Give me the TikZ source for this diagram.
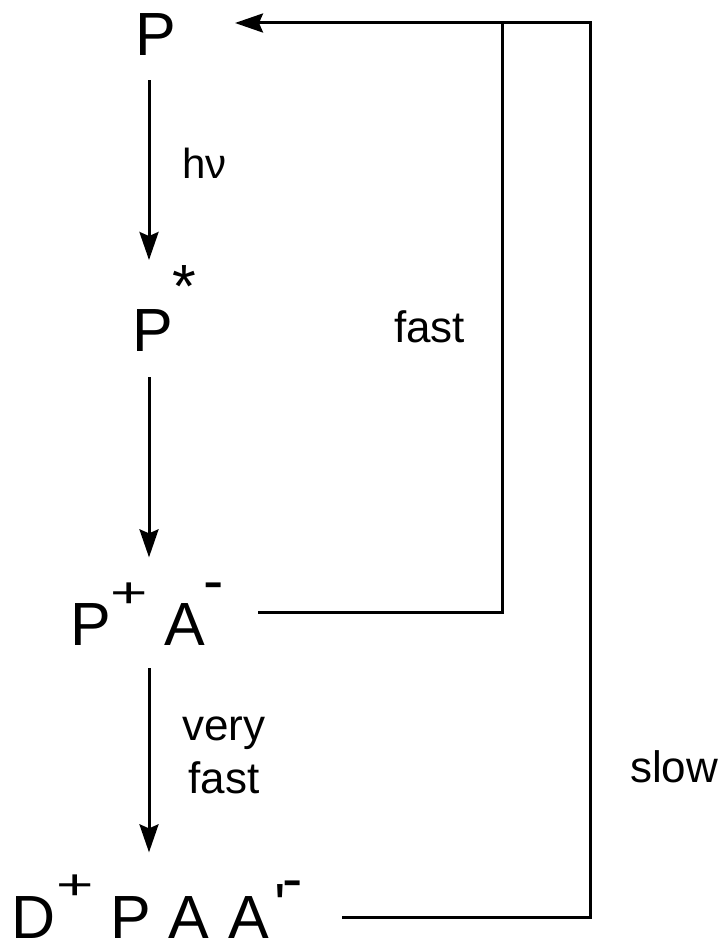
\documentclass[tikz,border=0pt]{standalone}
\usepackage{fontspec}
\setmainfont{Liberation Sans}
\usepackage{graphicx}
\usetikzlibrary{arrows.meta}
% raised charge marks and primes
\newcommand\lift[2]{\raisebox{#1}{#2}}
\newcommand\pluslift[1]{\raisebox{#1}{\scalebox{1.05}[0.7]{+}}}
\begin{document}
\begin{tikzpicture}[x=1pt,y=-1pt,
  species/.style={inner sep=0pt, outer sep=0pt, anchor=base west,
    font=\fontsize{61}{61}\selectfont},
  rate/.style={inner sep=0pt, outer sep=0pt, anchor=base west,
    font=\fontsize{44}{53}\selectfont},
  flow/.style={line width=3pt},
  arr/.style={flow, -{Stealth[length=28pt,width=19pt,inset=4pt]}}]
\useasboundingbox (0,0) rectangle (720,942);
\coordinate (spine) at (149,0);

% reaction species
\node[species] (P)  at (135,56)  {P};
\node[species] (Ps) at (132,351) {P\lift{44pt}{*}};
\node[species] (PA) at (70,645)  {P\pluslift{38pt}\kern16.5pt A\kern-1.4pt\lift{44pt}{-}};
\node[species] (D)  at (12,938)  {D\pluslift{39pt}\kern17.2pt P\kern17pt A\kern19pt A\kern6pt\lift{12pt}{\textquotesingle}\kern-3.5pt\lift{39pt}{-}};

% forward steps
\draw[arr, shorten <=24pt, shorten >=5pt] (P.south -| spine) -- (Ps.north -| spine);
\draw[arr, shorten <=26pt, shorten >=25pt] (Ps.south -| spine) -- (PA.north -| spine);
\draw[arr, shorten <=23pt, shorten >=22pt] (PA.south -| spine) -- (D.north -| spine);

% recombination paths back to the ground state
\coordinate (fastFoot) at (258,612);
\coordinate (slowFoot) at (342,917);
\coordinate (pTip) at (235,23);
\draw[flow] (fastFoot) -| (502,23);
\draw[arr] (slowFoot) -| (590,23) -- (pTip);

% rate labels
\node[rate, font=\fontsize{42}{50}\selectfont] (hv) at (182,178) {hν};
\node[rate] (fast) at (394,342) {fast};
\node[rate, anchor=base, align=center] (vf) at (224,793) {very\\fast};
\node[rate] (slow) at (630,782) {slow};
\end{tikzpicture}
\end{document}
